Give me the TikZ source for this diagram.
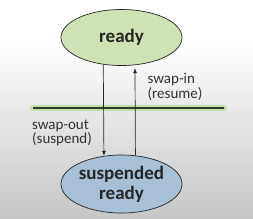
\documentclass[tikz,border=0pt]{standalone}
\usepackage{fontspec}
\setmainfont{Carlito}
\usetikzlibrary{arrows.meta,shapes.geometric}
\definecolor{greenfill}{HTML}{CFE2B5}
\definecolor{bluefill}{HTML}{A7C0D6}
\definecolor{glow}{HTML}{B8DD9C}
\definecolor{bardark}{HTML}{2F3A2A}
\definecolor{bgbot}{HTML}{C6C6C6}
\tikzset{
  state/.style={ellipse, draw=black!85, line width=0.7pt, minimum width=121pt, minimum height=56pt, inner sep=0pt, align=center, font=\fontsize{19}{20}\selectfont\bfseries, text=black!85},
  lbl/.style={align=left, font=\fontsize{15}{14.5}\selectfont, text=black!80, inner sep=0pt},
  conn/.style={draw=black!85, line width=0.7pt, -{Latex[length=5pt,width=4pt]}}
}
\begin{document}
\begin{tikzpicture}[x=1pt,y=-1pt]
\useasboundingbox (0,0) rectangle (253,218);
\fill[white] (0,0) rectangle (253,40);
\shade[top color=white, bottom color=bgbot] (0,40) rectangle (253,218);
\node[state, fill=greenfill] (ready) at (121.5,37.5) {ready};
\node[state, fill=bluefill, minimum height=58pt] (susp) at (121.5,184) {suspended\\ready};
\draw[glow, line width=6pt, line cap=round, opacity=0.8] (33,108) -- (224,108);
\draw[bardark, line width=2.6pt] (33,108) coordinate (barL) -- (224,108) coordinate (barR);
\node[lbl] (inlbl) at (175,87) {swap-in\\(resume)};
\node[lbl] (outlbl) at (62,133) {swap-out\\(suspend)};
\draw[conn] (ready.236.9) -- (susp.122.2);
\draw[conn] (susp.64.5) -- ([yshift=-3pt]ready.296.3);
\end{tikzpicture}
\end{document}
